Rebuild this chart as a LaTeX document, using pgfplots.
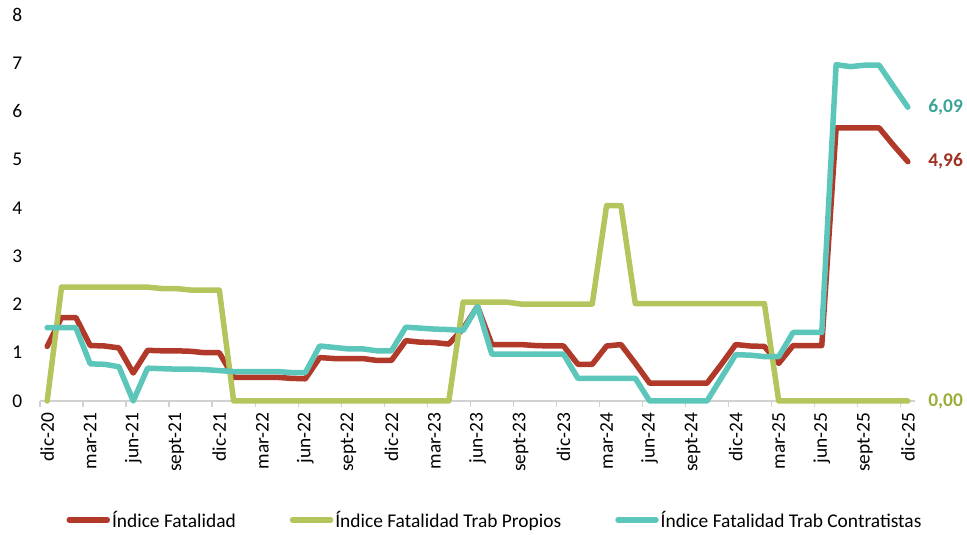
\documentclass[border=0pt]{standalone}
\usepackage{pgfplots}
\pgfplotsset{compat=1.18}
\usepackage{pgfplotstable}
\usepackage{fontspec}
\setmainfont{Carlito}
\definecolor{cRed}{HTML}{B0392A}
\definecolor{cGreen}{HTML}{B3C55C}
\definecolor{cTeal}{HTML}{5CC6BB}
\definecolor{lRed}{HTML}{9E3222}
\definecolor{lGreen}{HTML}{9AAE3A}
\definecolor{lTeal}{HTML}{3AA596}
\pgfplotstableread{
i red green teal
0 1.13 0 1.52
1 1.73 2.36 1.52
2 1.73 2.36 1.52
3 1.15 2.36 0.77
4 1.14 2.36 0.76
5 1.10 2.36 0.71
6 0.58 2.36 0.00
7 1.05 2.36 0.68
8 1.04 2.33 0.67
9 1.04 2.33 0.66
10 1.03 2.30 0.66
11 1.00 2.30 0.65
12 1.00 2.30 0.63
13 0.49 0 0.61
14 0.49 0 0.61
15 0.49 0 0.61
16 0.49 0 0.61
17 0.47 0 0.59
18 0.46 0 0.59
19 0.90 0 1.14
20 0.88 0 1.11
21 0.88 0 1.08
22 0.88 0 1.08
23 0.84 0 1.04
24 0.84 0 1.04
25 1.25 0 1.53
26 1.22 0 1.51
27 1.21 0 1.49
28 1.18 0 1.48
29 1.50 2.05 1.46
30 1.96 2.05 1.96
31 1.17 2.05 0.97
32 1.17 2.05 0.97
33 1.17 2.01 0.97
34 1.15 2.01 0.97
35 1.14 2.01 0.97
36 1.14 2.01 0.97
37 0.76 2.01 0.47
38 0.76 2.01 0.47
39 1.14 4.05 0.47
40 1.17 4.05 0.47
41 0.78 2.02 0.47
42 0.37 2.02 0
43 0.37 2.02 0
44 0.37 2.02 0
45 0.37 2.02 0
46 0.37 2.02 0
47 0.76 2.02 0.48
48 1.17 2.02 0.96
49 1.14 2.02 0.95
50 1.13 2.02 0.92
51 0.78 0 0.92
52 1.15 0 1.42
53 1.15 0 1.42
54 1.15 0 1.42
55 5.66 0 6.97
56 5.66 0 6.93
57 5.66 0 6.96
58 5.66 0 6.96
59 5.30 0 6.52
60 4.96 0 6.09
}\datatable
\begin{document}
\begin{tikzpicture}
\begin{axis}[
  scale only axis, width=875bp, height=386bp,
  xmin=-0.5, xmax=60.5, ymin=0, ymax=8,
  axis x line=bottom, axis y line=left,
  x axis line style={-, draw=black!18, line width=1.3bp},
  y axis line style={draw=none},
  font=\fontsize{19.5}{23}\selectfont,
  /pgf/number format/assume math mode=true,
  ytick={0,1,...,8},
  ytick style={draw=none},
  yticklabel style={anchor=east, xshift=-10bp},
  xtick={0,3,...,60},
  xticklabels={dic-20,mar-21,jun-21,sept-21,dic-21,mar-22,jun-22,sept-22,dic-22,mar-23,jun-23,sept-23,dic-23,mar-24,jun-24,sept-24,dic-24,mar-25,jun-25,sept-25,dic-25},
  xticklabel style={rotate=90, anchor=east, yshift=0bp, xshift=-4bp},
  major x tick style={draw=none},
  minor xtick={-0.5,2.5,...,59.5},
  minor tick length=6bp,
  tick align=outside,
  minor x tick style={draw=black!18, line width=1.3bp},
  clip=false,
  legend columns=3,
  legend style={draw=none, at={(0.52,-0.308)}, anchor=center,
    font=\fontsize{19.5}{23}\selectfont,
    /tikz/every even column/.append style={column sep=52bp}},
  legend image code/.code={\draw[line width=5.5bp, line cap=round] (0bp,0bp) -- (38bp,0bp);},
]
\addplot[cRed, line width=5.5bp, line join=round, line cap=round] table[x=i, y=red] {\datatable};
\addlegendentry{Índice Fatalidad}
\addplot[cGreen, line width=5.5bp, line join=round, line cap=round] table[x=i, y=green] {\datatable};
\addlegendentry{Índice Fatalidad Trab Propios}
\addplot[cTeal, line width=5.5bp, line join=round, line cap=round] table[x=i, y=teal] {\datatable};
\addlegendentry{Índice Fatalidad Trab Contratistas}
\node[anchor=west, text=lTeal, font=\fontsize{19.5}{23}\selectfont\bfseries, xshift=17bp] at (axis cs:60,6.09) {6,09};
\node[anchor=west, text=lRed, font=\fontsize{19.5}{23}\selectfont\bfseries, xshift=17bp] at (axis cs:60,4.96) {4,96};
\node[anchor=west, text=lGreen, font=\fontsize{19.5}{23}\selectfont\bfseries, xshift=17bp] at (axis cs:60,0) {0,00};
\end{axis}
\path[use as bounding box] ([xshift=-40bp,yshift=-134bp]current axis.south west) rectangle ([xshift=52bp,yshift=15bp]current axis.north east);
\end{tikzpicture}
\end{document}
